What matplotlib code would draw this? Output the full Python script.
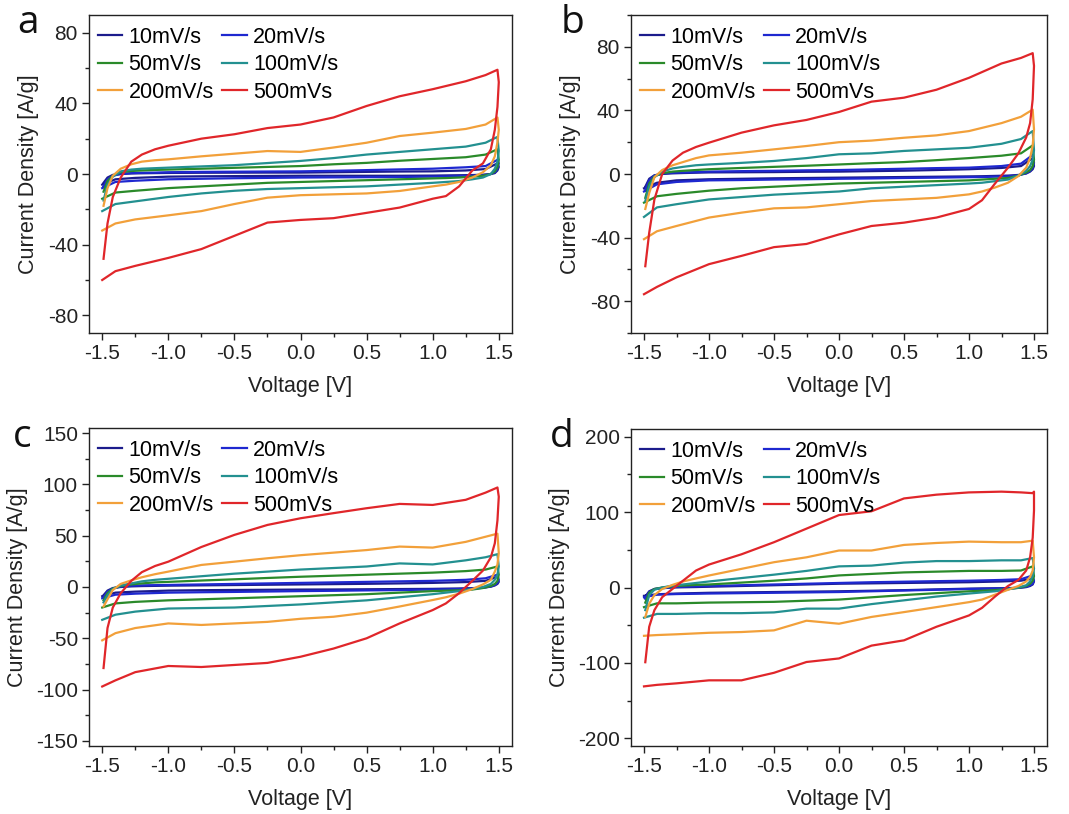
import matplotlib
matplotlib.use("Agg")
import matplotlib.pyplot as plt
from matplotlib.ticker import MultipleLocator

plt.rcParams['font.family'] = ['Liberation Sans', 'DejaVu Sans']

# ---------------- data ----------------
rates = ["10mV/s", "20mV/s", "50mV/s", "100mV/s", "200mV/s", "500mVs"]
colors = ["#1c1c8c", "#1e28d0", "#2a8a2a", "#239090", "#f2a03a", "#e0262a"]

# forward (anodic) sweep voltages and reverse sweep voltages
V_up = [-1.49, -1.46, -1.42, -1.36, -1.28, -1.2, -1.1, -1.0, -0.75, -0.5,
        -0.25, 0.0, 0.25, 0.5, 0.75, 1.0, 1.25, 1.4, 1.49, 1.5]
V_dn = [1.5, 1.49, 1.47, 1.44, 1.38, 1.3, 1.2, 1.1, 1.0, 0.75,
        0.5, 0.25, 0.0, -0.25, -0.5, -0.75, -1.0, -1.25, -1.4, -1.5]

# ---- panel a ----
a_up_10 = [-5, -2, -0.5, 0, 0.3, 0.4, 0.5, 0.6, 0.7, 0.75, 0.8, 0.8, 1.0, 1.2, 1.4, 1.5, 2, 2.8, 6, 4]
a_dn_10 = [4, 2, 0.5, 0, -0.4, -0.6, -0.7, -0.8, -0.9, -1, -1, -1, -1, -1.1, -1.2, -1.3, -1.5, -2.2, -3, -6]
a_up_20 = [-7, -3, -1, 0, 0.5, 0.7, 0.8, 1, 1.2, 1.3, 1.4, 1.5, 1.8, 2.2, 2.6, 3, 3.8, 4.5, 8, 6]
a_dn_20 = [6, 3, 1, 0, -0.7, -1, -1.2, -1.4, -1.5, -1.7, -1.8, -1.9, -2, -2.2, -2.4, -2.7, -3, -3.8, -4.5, -8]
a_up_50 = [-10, -4, -1, 1, 1.7, 2, 2.3, 2.5, 3, 3.5, 4, 4.5, 5.5, 6.3, 7.5, 8.5, 9.5, 11, 14, 8]
a_dn_50 = [8, 4, 1.5, 0, -1, -1.5, -2, -2.3, -2.5, -3, -3.5, -4, -4.5, -5, -6, -7, -8, -9.5, -10.5, -14]
a_up_100 = [-15, -6, -1.5, 1.5, 2.5, 3, 3.3, 3.6, 4.3, 5, 6.2, 7.4, 9, 11, 12.5, 14, 15.5, 17.7, 21, 13]
a_dn_100 = [13, 7, 3, 0, -2, -3, -4, -4.5, -5, -6, -7, -7.5, -8, -8.5, -9.5, -11, -13, -15.5, -17, -21]
a_up_200 = [-18, -8, -1, 3, 5.5, 7, 7.8, 8.3, 10, 11.5, 13, 12.5, 15, 17.7, 21.5, 23.4, 25.5, 28, 32, 25]
a_dn_200 = [25, 18, 10, 5, 1, -2, -4.5, -6, -7, -9.6, -11, -11.5, -12, -13.4, -17, -21, -23.4, -25.7, -28, -32]
a_up_500 = [-48, -28, -13, -2, 7, 11, 14, 16, 20, 22.5, 26, 28, 32, 38.5, 44, 48, 52.5, 56, 59, 52]
a_dn_500 = [52, 38, 25, 14, 6, 2, -7, -12.5, -14, -19, -22, -25, -26, -27.5, -35, -42.5, -47.5, -52, -55, -60]

# ---- panel b ----
b_up_10 = [-8, -3, -0.8, 0, 0.4, 0.6, 0.8, 1, 1.1, 1.2, 1.4, 1.5, 1.8, 2.1, 2.5, 3, 3.8, 5, 10, 5]
b_dn_10 = [5, 3, 1.5, 0.3, -0.6, -1, -1.2, -1.4, -1.5, -1.7, -1.9, -2.1, -2.3, -2.5, -2.7, -3, -3.3, -4, -5.5, -9]
b_up_20 = [-10, -4, -1, 0.3, 0.8, 1, 1.2, 1.5, 1.8, 2, 2.3, 2.5, 2.9, 3.3, 3.7, 4, 5, 6.5, 12, 7]
b_dn_20 = [7, 4, 2, 0.5, -0.8, -1.5, -1.7, -1.9, -2, -2.3, -2.5, -2.8, -3, -3.3, -3.5, -3.8, -4, -5, -6.5, -11]
b_up_50 = [-15, -6, -1.5, 0.5, 1.5, 2, 2.5, 3, 3.8, 4.5, 5.2, 6, 6.8, 7.5, 8.7, 10, 11.5, 13, 18, 9]
b_dn_50 = [9, 5, 2.5, 1, -1, -2.5, -3, -3.5, -4, -4.5, -5, -5.5, -6, -7, -8, -9, -10.5, -12.5, -14, -18]
b_up_100 = [-17, -8, -2, 1.5, 3.5, 4.5, 5.5, 6, 7, 8.2, 10, 12.4, 13, 14.5, 15.5, 16.5, 19, 22, 27, 15]
b_dn_100 = [15, 9, 5, 2, -1, -3.5, -4.5, -5.5, -6, -7, -8, -9, -11, -12, -13, -14.5, -16, -19, -21, -27]
b_up_200 = [-22, -12, -2, 2.5, 5.5, 7.5, 10, 11.7, 13.4, 15.5, 17.6, 20, 21, 22.8, 24.3, 27, 32, 36, 40.5, 28]
b_dn_200 = [28, 18, 10, 4, -1.3, -5.5, -8.5, -11, -12.8, -15, -16, -17, -19, -21, -21.6, -24.3, -27.4, -32.7, -36, -41]
b_up_500 = [-58, -37, -16, 0, 8.5, 13.4, 17, 19.7, 26, 30.6, 34, 39, 45.5, 48, 53, 60.5, 69.5, 73, 76, 68]
b_dn_500 = [68, 47, 32, 23, 13, 4, -6, -16.5, -22, -27.4, -30.6, -32.7, -38, -44, -46, -51.5, -56.7, -65, -71, -75.6]

# ---- panel c ----
c_up_10 = [-8, -3.5, -1, 0, 0.6, 0.9, 1.1, 1.3, 1.6, 1.9, 2.2, 2.5, 2.8, 3.1, 3.5, 4, 4.8, 6, 10, 5]
c_dn_10 = [5, 3, 1.5, 0.3, -0.6, -1.1, -1.4, -1.6, -1.8, -2, -2.2, -2.4, -2.5, -2.7, -2.9, -3.1, -3.5, -4.5, -5.5, -9]
c_up_20 = [-10, -4.5, -1.5, 0.5, 1.2, 1.6, 1.8, 2, 2.5, 3, 3.5, 4, 4.5, 5, 5.5, 6, 7, 8.5, 12, 7]
c_dn_20 = [7, 4, 2, 0.5, -0.8, -1.5, -2, -2.3, -2.5, -3, -3.3, -3.7, -4, -4.4, -4.8, -5.1, -5.5, -6.5, -7.5, -11]
c_up_50 = [-13, -6, -1.5, 1, 2.5, 3.5, 4.5, 5, 6.3, 7.5, 8.8, 10, 11, 12, 13, 14, 15.5, 17, 20, 12]
c_dn_50 = [12, 6, 3, 1, -1, -2.5, -3.2, -3.6, -4, -5.5, -7, -8, -9, -10, -11, -12, -13, -14.5, -16, -20]
c_up_100 = [-15, -8, -2, 1.5, 3.5, 5.5, 7, 8, 10.5, 13, 15, 17, 18.5, 20, 23, 22, 26, 29, 32, 20]
c_dn_100 = [20, 12, 7, 3, 0, -2, -4, -5.5, -7, -10, -13, -15, -17, -18.5, -20, -20.5, -21, -24, -27, -32]
c_up_200 = [-19, -12, -3, 3, 6.5, 9.5, 12.5, 15, 21.5, 24.7, 28, 31, 33.5, 36, 39.4, 38.4, 44, 49, 52, 33]
c_dn_200 = [33, 22, 15, 7, 2.5, -2, -6.5, -10, -12.7, -19, -25, -29, -31, -34, -35.5, -37, -35.5, -40, -45, -52]
c_up_500 = [-79, -40, -20, -6, 6, 14.5, 20.5, 24.7, 39, 50.8, 60.5, 67, 72, 76.8, 81, 80, 85, 92, 97, 88]
c_dn_500 = [88, 65, 42.6, 29, 16, 6, -6, -16, -22.5, -35.5, -50, -60, -68, -74, -76, -78, -77, -83, -91, -97]

# ---- panel d ----
d_up_10 = [-12, -5, -2, -1, 0, 0.3, 0.6, 1, 2, 3, 4, 5, 5.5, 6, 6.5, 7, 8, 9, 12, 8]
d_dn_10 = [8, 4, 2, 0.5, -0.5, -0.8, -1, -1.2, -1.5, -2.5, -3.5, -4.3, -5, -5.5, -6, -6.5, -7, -8, -9, -11]
d_up_20 = [-15, -6, -2, -0.5, 0.5, 1, 1.5, 2, 3, 4, 5, 6, 7, 7.7, 8.4, 9, 10, 11, 16, 9]
d_dn_20 = [9, 5, 3, 1, -0.5, -1, -1.5, -1.8, -2, -3, -4, -5, -6, -6.5, -7, -7.5, -8, -8.7, -9.5, -13]
d_up_50 = [-20, -7, -2, 0, 1.5, 2.5, 3.5, 4, 6.5, 9, 12, 16, 18, 20, 21, 22, 22, 22.5, 28, 15]
d_dn_50 = [15, 9, 5, 2, -0.5, -2, -3.5, -4.3, -5, -7.5, -10, -13, -16, -17.5, -19, -19.5, -20, -21, -21, -26]
d_up_100 = [-30, -10, -3, 0, 2.5, 4, 6, 8, 12.5, 17, 22, 28, 29, 33, 35, 35, 36, 36, 39, 25]
d_dn_100 = [25, 15, 8, 3, 0, -2.5, -5, -6.5, -8, -12, -17, -22, -28, -28, -33, -34, -34, -35, -35, -40]
d_up_200 = [-39, -21.6, -10, -2, 3.5, 8, 12, 15.9, 24.7, 33.5, 40, 49, 49, 56.4, 59, 60.8, 60, 60, 62, 40]
d_dn_200 = [40, 22.5, 14, 8, 2, -3, -9.5, -16, -19.4, -26, -32.6, -39, -48, -44, -56.8, -59, -60, -62, -63, -64]
d_up_500 = [-99, -52, -30, -12.8, -1.8, 9, 22.5, 30.4, 44, 60, 78, 96, 101, 118, 123, 126, 127, 126, 125, 127]
d_dn_500 = [102, 66, 40, 22.5, 10, 2, -12, -27, -37, -52, -70, -77, -94, -98.7, -113, -123, -123, -127, -129, -131]

panels = [
    ("a", [(a_up_10, a_dn_10), (a_up_20, a_dn_20), (a_up_50, a_dn_50),
           (a_up_100, a_dn_100), (a_up_200, a_dn_200), (a_up_500, a_dn_500)],
     (-90, 90), [-80, -40, 0, 40, 80], 20),
    ("b", [(b_up_10, b_dn_10), (b_up_20, b_dn_20), (b_up_50, b_dn_50),
           (b_up_100, b_dn_100), (b_up_200, b_dn_200), (b_up_500, b_dn_500)],
     (-100, 100), [-80, -40, 0, 40, 80], 20),
    ("c", [(c_up_10, c_dn_10), (c_up_20, c_dn_20), (c_up_50, c_dn_50),
           (c_up_100, c_dn_100), (c_up_200, c_dn_200), (c_up_500, c_dn_500)],
     (-155, 155), [-150, -100, -50, 0, 50, 100, 150], 25),
    ("d", [(d_up_10, d_dn_10), (d_up_20, d_dn_20), (d_up_50, d_dn_50),
           (d_up_100, d_dn_100), (d_up_200, d_dn_200), (d_up_500, d_dn_500)],
     (-210, 210), [-200, -100, 0, 100, 200], 50),
]

W, H = 1069, 814
fig = plt.figure(figsize=(W / 100, H / 100), dpi=100)

# axes boxes in pixels: left, right, top, bottom
boxes = [(89, 512, 15, 333), (631, 1047, 15, 333),
         (89, 512, 428, 746), (631, 1047, 429, 746)]
letter_pos = [(17, 4), (561, 4), (13, 418), (550, 418)]

for (label, series, ylim, yticks, yminor), (l, r, t, b), (lx, ly) in zip(panels, boxes, letter_pos):
    ax = fig.add_axes([l / W, 1 - b / H, (r - l) / W, (b - t) / H])
    handles = []
    for (up, dn), name, col in zip(series, rates, colors):
        ln, = ax.plot(V_up + V_dn, up + dn, color=col, lw=1.6, label=name)
        handles.append(ln)
    ax.set_xlim(-1.6, 1.6)
    ax.set_ylim(*ylim)
    ax.set_xticks([-1.5, -1.0, -0.5, 0.0, 0.5, 1.0, 1.5])
    ax.set_xticklabels(["-1.5", "-1.0", "-0.5", "0.0", "0.5", "1.0", "1.5"])
    ax.set_yticks(yticks)
    ax.set_yticklabels([str(v) for v in yticks])
    ax.xaxis.set_minor_locator(MultipleLocator(0.25))
    ax.yaxis.set_minor_locator(MultipleLocator(yminor))
    ax.tick_params(which='major', direction='out', length=5, width=1, labelsize=15,
                   colors='#222222', pad=3)
    ax.tick_params(which='minor', direction='out', length=3, width=1, colors='#222222')
    ax.tick_params(top=False, right=False, which='both')
    for s in ax.spines.values():
        s.set_linewidth(1.0)
        s.set_color('#222222')
    ax.set_xlabel("Voltage [V]", fontsize=15.5, color='#222222', labelpad=9)
    ax.set_ylabel("Current Density [A/g]", fontsize=15.5, color='#222222', labelpad=6)
    order = [0, 2, 4, 1, 3, 5]
    ax.legend([handles[i] for i in order], [rates[i] for i in order], ncol=2,
              loc='upper left', frameon=False, fontsize=15.5, handlelength=1.15,
              handletextpad=0.28, columnspacing=0.4, labelspacing=0.31,
              borderpad=0.0, borderaxespad=0.4,
              bbox_to_anchor=(0.0, 1.0 - 3.0 / (b - t)))
    fig.text(lx / W, 1 - ly / H, label, fontsize=28, family=['Open Sans', 'DejaVu Sans'],
             ha='left', va='top', color='#111111')

fig.savefig("out.png", dpi=100)
